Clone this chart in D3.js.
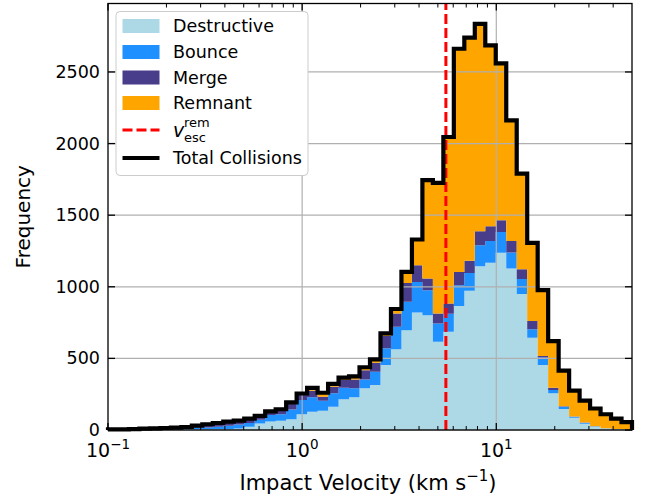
<!DOCTYPE html>
<html>
<head>
<meta charset="utf-8">
<script src="https://cdn.jsdelivr.net/npm/d3@7"></script>
<style>
  body { margin: 0; background: #fff; }
  text { font-family: "DejaVu Sans", sans-serif; fill: #000; }
</style>
</head>
<body>
<div id="chart"></div>
<script>
// histogram counts per log-spaced bin (50 bins from 0.1 to 50 km/s)
var destructive = [0, 0, 0, 1, 1, 1, 2, 2, 3, 4, 5, 6, 10, 23, 46, 60, 65, 75, 110, 128,
  135, 163, 214, 228, 291, 314, 453, 563, 697, 821, 802, 616, 686, 865, 972, 1144, 1167, 1237, 1128, 950,
  644, 453, 256, 146, 85, 43, 22, 10, 5, 2];
var bounce = [1, 1, 2, 3, 4, 6, 7, 9, 12, 14, 18, 24, 28, 26, 26, 45, 45, 69, 100, 100,
  70, 93, 81, 63, 61, 93, 117, 158, 198, 213, 174, 128, 126, 146, 125, 146, 153, 146, 111, 105,
  59, 54, 23, 16, 8, 8, 4, 3, 2, 1];
var merge = [2, 3, 3, 4, 5, 6, 7, 9, 14, 20, 24, 26, 25, 29, 24, 22, 25, 37, 37, 46,
  27, 46, 54, 62, 66, 63, 86, 93, 132, 117, 82, 70, 72, 93, 84, 98, 103, 82, 81, 67,
  58, 9, 16, 3, 2, 1, 1, 0, 0, 0];
var remnant = [1, 1, 1, 1, 1, 1, 1, 1, 2, 2, 2, 2, 2, 2, 3, 3, 10, 12, 8, 20,
  28, 20, 17, 22, 20, 23, 19, 31, 77, 179, 687, 911, 1162, 1558, 1559, 1448, 1262, 1095, 842, 668,
  545, 460, 325, 250, 180, 153, 123, 97, 73, 52];

var categories = ["Destructive", "Bounce", "Merge", "Remnant"];
var colors = ["#add8e6", "#1e90ff", "#483d8b", "#ffa500"];
var vEscRem = 5.5;
var yTicks = [0, 500, 1000, 1500, 2000, 2500];
var xTicks = [0.1, 1, 10];
var xTickExp = ["\u22121", "0", "1"];

(function() {

var binCount = 50, vMin = 0.1, vMax = 50;
var edges = d3.range(binCount + 1).map(function(i) {
  return Math.pow(10, Math.log10(vMin) + i * (Math.log10(vMax) - Math.log10(vMin)) / binCount);
});

var width = 649, height = 497;
var pLeft = 108, pRight = 632, pTop = 3.5, pBottom = 430;

var svg = d3.select("#chart").append("svg")
  .attr("width", width).attr("height", height);

var x = d3.scaleLog().domain([vMin, vMax]).range([pLeft, pRight]);
var y = d3.scaleLinear().domain([0, 2978]).range([pBottom, pTop]);

// stacked data
var rows = edges.slice(0, binCount).map(function(e, i) {
  return { x0: e, x1: edges[i + 1], Destructive: destructive[i], Bounce: bounce[i], Merge: merge[i], Remnant: remnant[i] };
});
var stacked = d3.stack().keys(categories)(rows);

var area = d3.area()
  .curve(d3.curveStepAfter)
  .x(function(d) { return x(d.xv); })
  .y0(function(d) { return y(d.y0); })
  .y1(function(d) { return y(d.y1); });

stacked.forEach(function(layer, k) {
  var pts = layer.map(function(d, i) { return { xv: rows[i].x0, y0: d[0], y1: d[1] }; });
  var last = layer[layer.length - 1];
  pts.push({ xv: edges[binCount], y0: last[0], y1: last[1] });
  svg.append("path")
    .attr("d", area(pts))
    .attr("fill", colors[k]);
});

// grid on top of the fills
var grid = svg.append("g").attr("stroke", "#b0b0b0").attr("stroke-width", 1.2);
[1, 10].forEach(function(v) {
  grid.append("line").attr("x1", x(v)).attr("x2", x(v)).attr("y1", pTop).attr("y2", pBottom);
});
yTicks.forEach(function(v) {
  grid.append("line").attr("x1", pLeft).attr("x2", pRight).attr("y1", y(v)).attr("y2", y(v));
});

// escape velocity line
svg.append("line")
  .attr("x1", x(vEscRem)).attr("x2", x(vEscRem))
  .attr("y1", pBottom).attr("y2", pTop)
  .attr("stroke", "#ff0000").attr("stroke-width", 3)
  .attr("stroke-dasharray", "10,4");

// total collisions outline
var totals = rows.map(function(r) { return r.Destructive + r.Bounce + r.Merge + r.Remnant; });
var outline = [[edges[0], 0]];
totals.forEach(function(t, i) { outline.push([edges[i], t]); });
outline.push([edges[binCount], totals[binCount - 1]]);
outline.push([edges[binCount], 0]);
svg.append("path")
  .attr("d", d3.line().curve(d3.curveStepAfter)
    .x(function(d) { return x(d[0]); })
    .y(function(d) { return y(d[1]); })(outline))
  .attr("fill", "none")
  .attr("stroke", "#000")
  .attr("stroke-width", 4.2)
  .attr("stroke-linejoin", "miter");

// spines
svg.append("rect")
  .attr("x", pLeft).attr("y", pTop)
  .attr("width", pRight - pLeft).attr("height", pBottom - pTop)
  .attr("fill", "none").attr("stroke", "#000").attr("stroke-width", 1.3);

// ticks (inward, all sides)
var ticks = svg.append("g").attr("stroke", "#000");
var minor = [];
[0.1, 1, 10].forEach(function(dec) {
  d3.range(2, 10).forEach(function(m) { if (dec * m < vMax) minor.push(dec * m); });
});
xTicks.forEach(function(v) {
  ticks.append("line").attr("x1", x(v)).attr("x2", x(v)).attr("y1", pBottom).attr("y2", pBottom - 7).attr("stroke-width", 1.3);
  ticks.append("line").attr("x1", x(v)).attr("x2", x(v)).attr("y1", pTop).attr("y2", pTop + 7).attr("stroke-width", 1.3);
});
minor.forEach(function(v) {
  ticks.append("line").attr("x1", x(v)).attr("x2", x(v)).attr("y1", pBottom).attr("y2", pBottom - 4).attr("stroke-width", 1);
  ticks.append("line").attr("x1", x(v)).attr("x2", x(v)).attr("y1", pTop).attr("y2", pTop + 4).attr("stroke-width", 1);
});
yTicks.forEach(function(v) {
  ticks.append("line").attr("x1", pLeft).attr("x2", pLeft + 7).attr("y1", y(v)).attr("y2", y(v)).attr("stroke-width", 1.3);
  ticks.append("line").attr("x1", pRight).attr("x2", pRight - 7).attr("y1", y(v)).attr("y2", y(v)).attr("stroke-width", 1.3);
});

// tick labels
yTicks.forEach(function(v) {
  svg.append("text")
    .attr("x", pLeft - 8).attr("y", y(v) + 6)
    .attr("text-anchor", "end")
    .style("font-size", "17.5px")
    .text(v);
});
xTicks.forEach(function(v, i) {
  var t = svg.append("text")
    .attr("x", x(v)).attr("y", 457)
    .attr("text-anchor", "middle")
    .style("font-size", "19px");
  t.append("tspan").text("10");
  t.append("tspan").attr("dy", -8).style("font-size", "13.5px").text(xTickExp[i]);
});

// axis labels
var xl = svg.append("text")
  .attr("x", (pLeft + pRight) / 2 - 2).attr("y", 490)
  .attr("text-anchor", "middle")
  .style("font-size", "21px");
xl.append("tspan").text("Impact Velocity (km s");
xl.append("tspan").attr("dy", -9).style("font-size", "15px").text("\u22121");
xl.append("tspan").attr("dy", 9).text(")");

svg.append("text")
  .attr("transform", "translate(30," + ((pTop + pBottom) / 2) + ") rotate(-90)")
  .attr("text-anchor", "middle")
  .style("font-size", "20px")
  .text("Frequency");

// legend
var lg = svg.append("g");
lg.append("rect")
  .attr("x", 116).attr("y", 11.5).attr("width", 192).attr("height", 164)
  .attr("rx", 4).attr("fill", "#fff").attr("stroke", "#cccccc").attr("stroke-width", 1);

var rowY = [26, 52, 77.5, 103, 130, 158];
categories.forEach(function(c, i) {
  lg.append("rect")
    .attr("x", 122.5).attr("y", rowY[i] - 7).attr("width", 37).attr("height", 14)
    .attr("fill", colors[i]);
  lg.append("text")
    .attr("x", 173).attr("y", rowY[i] + 6)
    .style("font-size", "17.5px")
    .text(c);
});
lg.append("line")
  .attr("x1", 122.5).attr("x2", 159.5).attr("y1", rowY[4]).attr("y2", rowY[4])
  .attr("stroke", "#ff0000").attr("stroke-width", 3).attr("stroke-dasharray", "10,4");
lg.append("text").attr("x", 173).attr("y", 137)
  .style("font-size", "19px").style("font-style", "italic").text("v");
lg.append("text").attr("x", 184).attr("y", 126.5)
  .style("font-size", "13px").text("rem");
lg.append("text").attr("x", 184).attr("y", 141.5)
  .style("font-size", "13px").text("esc");
lg.append("line")
  .attr("x1", 122.5).attr("x2", 159.5).attr("y1", rowY[5]).attr("y2", rowY[5])
  .attr("stroke", "#000").attr("stroke-width", 4);
lg.append("text")
  .attr("x", 173).attr("y", rowY[5] + 6)
  .style("font-size", "17.5px")
  .text("Total Collisions");

})();
</script>
</body>
</html>
